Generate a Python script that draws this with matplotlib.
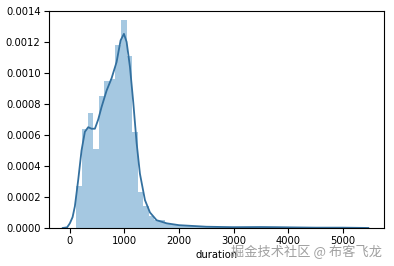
import numpy as np
import matplotlib
matplotlib.use('Agg')
import matplotlib.pyplot as plt

# histogram (density)
bin_start = 120
bin_width = 102
heights = [0.00027, 0.00064, 0.00074, 0.00051, 0.00085, 0.00095, 0.00096,
           0.00118, 0.00134, 0.00111, 0.00062, 0.00023, 0.00014, 0.00008,
           0.00005, 0.00005, 0.00003, 0.00002, 0.000018, 0.000015, 0.000012,
           0.00001, 0.00001, 0.000008, 0.000008, 0.000006, 0.000006, 0.000005,
           0.000005, 0.000004, 0.000004, 0.000005, 0.000006, 0.000007, 0.000006,
           0.000004, 0.000006, 0.000005, 0.000003, 0.000003, 0.000003, 0.000002,
           0.000002, 0.000002, 0.000002, 0.000002, 0.000002, 0.000002, 0.000002,
           0.000002, 0.000001, 0.000001, 0.000001]

# kde curve points
kde_x = [-130, -50, 0, 50, 92, 153, 214, 275, 336, 398, 459, 520, 581, 673,
         765, 856, 930, 991, 1040, 1101, 1162, 1223, 1284, 1376, 1468, 1590,
         1774, 2000, 2500, 3000, 3500, 3800, 4000, 4500, 5000, 5470]
kde_y = [0.0, 0.000004, 0.00003, 0.00007, 0.00014, 0.00031, 0.0005, 0.00062,
         0.00065, 0.00064, 0.00064, 0.0007, 0.00078, 0.000886, 0.000966,
         0.00107, 0.00121, 0.001252, 0.0012, 0.00104, 0.00081, 0.00055,
         0.00035, 0.00018, 0.0001, 0.00005, 0.00003, 0.000018, 0.000008,
         0.000005, 0.000006, 0.000005, 0.000004, 0.000002, 0.000002, 0.0]

edges = bin_start + bin_width * np.arange(len(heights))

fig = plt.figure(figsize=(3.94, 2.66), dpi=100)
ax = fig.add_axes([0.124, 0.143, 0.851, 0.816])
ax.bar(edges, heights, width=bin_width, align='edge', color='#1f77b4', alpha=0.4, linewidth=0)
ax.plot(kde_x, kde_y, color='#33709f', lw=1.3)

ax.set_xlim(-385, 5760)
ax.set_ylim(0, 0.0014)
ax.set_yticks(np.arange(0, 0.00141, 0.0002))
ax.set_yticklabels(['%.4f' % v for v in np.arange(0, 0.00141, 0.0002)])
ax.set_xticks([0, 1000, 2000, 3000, 4000, 5000])
ax.tick_params(labelsize=7.2, length=3.5, pad=2.5)
ax.set_xlabel('duration', fontsize=7.2, labelpad=3)

fig.text(0.97, 0.052, '掘金技术社区 @ 布客飞龙', ha='right', va='center', fontsize=9.5,
         color='#a0a0a0', family=['Noto Sans CJK SC', 'DejaVu Sans'])

fig.savefig('out.png', dpi=100)
